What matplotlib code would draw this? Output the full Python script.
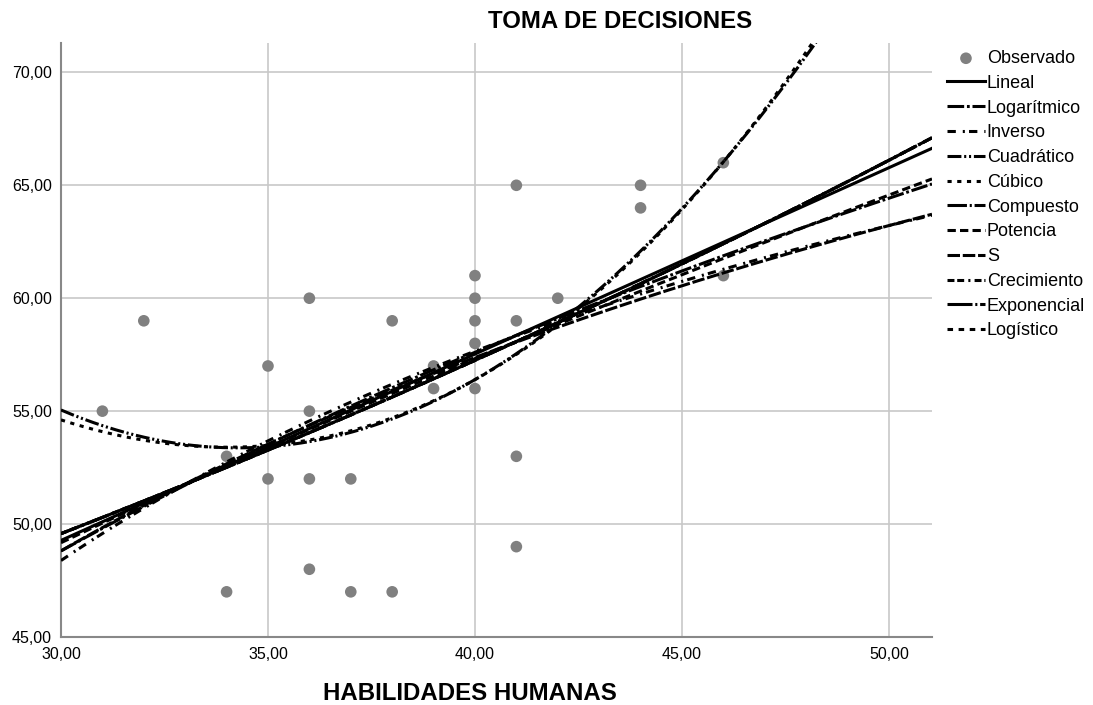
import numpy as np
import matplotlib
matplotlib.use("Agg")
import matplotlib.pyplot as plt

plt.rcParams['font.family'] = ['Liberation Sans', 'DejaVu Sans']
plt.rcParams['lines.scale_dashes'] = False

# observed points (HABILIDADES HUMANAS, TOMA DE DECISIONES)
hab = np.array([31, 32, 34, 34, 35, 35, 36, 36, 36, 36, 37, 37, 38, 38, 39, 39,
                40, 40, 40, 40, 40, 41, 41, 41, 41, 42, 44, 44, 46, 46], dtype=float)
toma = np.array([55, 59, 53, 47, 57, 52, 60, 55, 52, 48, 52, 47, 59, 47, 57, 56,
                 61, 60, 59, 58, 56, 65, 59, 53, 49, 60, 65, 64, 66, 61], dtype=float)

x_ticks = [30, 35, 40, 45, 50]
y_ticks = [45, 50, 55, 60, 65, 70]

models = ['Lineal', 'Logarítmico', 'Inverso', 'Cuadrático', 'Cúbico', 'Compuesto',
          'Potencia', 'S', 'Crecimiento', 'Exponencial', 'Logístico']


def fit_curve(name, xs):
    """Curve estimation fits, same forms as SPSS CURVEFIT."""
    x, y = hab, toma
    if name == 'Lineal':
        return np.polyval(np.polyfit(x, y, 1), xs)
    if name == 'Logarítmico':
        return np.polyval(np.polyfit(np.log(x), y, 1), np.log(xs))
    if name == 'Inverso':
        return np.polyval(np.polyfit(1 / x, y, 1), 1 / xs)
    if name == 'Cuadrático':
        return np.polyval(np.polyfit(x, y, 2), xs)
    if name == 'Cúbico':
        # SPSS drops the squared term here (tolerance), keeping x and x^3
        A = np.column_stack([np.ones_like(x), x, x ** 3])
        b = np.linalg.lstsq(A, y, rcond=None)[0]
        return b[0] + b[1] * xs + b[2] * xs ** 3
    if name in ('Compuesto', 'Crecimiento', 'Exponencial'):
        return np.exp(np.polyval(np.polyfit(x, np.log(y), 1), xs))
    if name == 'Potencia':
        return np.exp(np.polyval(np.polyfit(np.log(x), np.log(y), 1), np.log(xs)))
    if name == 'S':
        return np.exp(np.polyval(np.polyfit(1 / x, np.log(y), 1), 1 / xs))
    if name == 'Logístico':
        return 1 / np.exp(np.polyval(np.polyfit(x, np.log(1 / y), 1), xs))


styles = {
    'Lineal': '-',
    'Logarítmico': (0, (12, 2, 2, 2)),
    'Inverso': (0, (6, 5, 1.5, 3)),
    'Cuadrático': (0, (10, 2, 1.5, 2, 1.5, 2)),
    'Cúbico': (0, (3, 4)),
    'Compuesto': (0, (14, 2, 1.5, 2)),
    'Potencia': (0, (6, 3)),
    'S': (0, (9, 2)),
    'Crecimiento': (0, (5, 2, 5, 3, 1.5, 3)),
    'Exponencial': (0, (18, 2, 1.5, 2)),
    'Logístico': (0, (4, 4)),
}

fig = plt.figure(figsize=(10.93, 7.05), dpi=100)
ax = fig.add_axes([61 / 1093, 1 - 637 / 705, (932 - 61) / 1093, (637 - 43) / 705])

xmin, xmax = 30, 51.04
ax.set_xlim(xmin, xmax)
ax.set_ylim(45, 71.3)

ax.scatter(hab, toma, s=70, color='#808080', edgecolors='none', zorder=2, label='Observado')

xs = np.linspace(xmin, xmax, 400)
for m in models:
    ax.plot(xs, fit_curve(m, xs), color='black', lw=2.2, linestyle=styles[m], zorder=3, label=m)

ax.set_xticks(x_ticks)
ax.set_yticks(y_ticks)
ax.set_xticklabels([f"{v:.2f}".replace('.', ',') for v in x_ticks], fontsize=11.5)
ax.set_yticklabels([f"{v:.2f}".replace('.', ',') for v in y_ticks], fontsize=11.5)
ax.tick_params(axis='y', length=0, pad=6.5)
ax.tick_params(axis='x', length=0, pad=7)
ax.grid(True, color='#c8c8c8', lw=1.2)
ax.set_axisbelow(True)
for s in ['top', 'right']:
    ax.spines[s].set_visible(False)
for s in ['left', 'bottom']:
    ax.spines[s].set_color('#888888')
    ax.spines[s].set_linewidth(1.5)

fig.text(620 / 1093, 1 - 22 / 705, 'TOMA DE DECISIONES', ha='center', va='center',
         fontsize=17.3, fontweight='bold')
fig.text(470 / 1093, 1 - 693 / 705, 'HABILIDADES HUMANAS', ha='center', va='center',
         fontsize=17.3, fontweight='bold')

fig.legend(loc='upper left', bbox_to_anchor=(947 / 1093, 1 - 50 / 705), frameon=False,
           fontsize=13, handlelength=2.1, handletextpad=0.1, labelspacing=0.43,
           borderaxespad=0, borderpad=0)

fig.savefig('out.png', dpi=100)
